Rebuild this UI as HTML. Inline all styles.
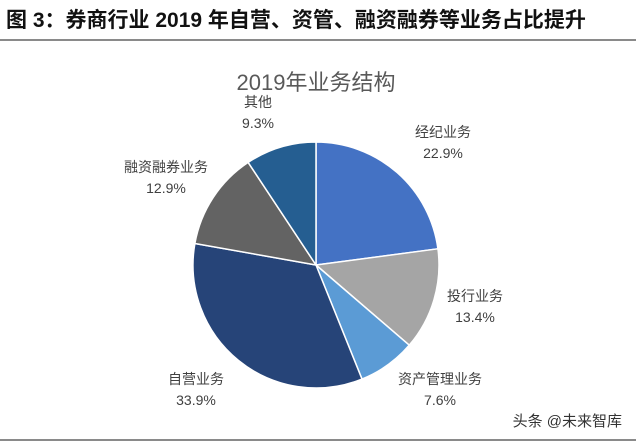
<!DOCTYPE html>
<html><head><meta charset="utf-8"><style>
body{margin:0;width:640px;height:444px;background:#fff;overflow:hidden;font-family:"Liberation Sans","Noto Sans CJK SC",sans-serif;}
</style></head><body>
<svg width="640" height="444" style="position:absolute;left:0;top:0">
<text x="6" y="27" font-size="21" font-weight="bold" fill="#111" font-family="Liberation Sans,Noto Sans CJK SC,sans-serif">图 3：券商行业 2019 年自营、资管、融资融券等业务占比提升</text>
<rect x="0" y="39" width="636" height="2" fill="#8a8a8a"/>
<rect x="0" y="439" width="636" height="2" fill="#8a8a8a"/>
<text x="316" y="90" font-size="22" fill="#595959" text-anchor="middle">2019年业务结构</text>
<g id="pie"></g>
<text x="622" y="426" font-size="15" fill="#333" text-anchor="end">头条 @未来智库</text>
</svg>
<script>
const categories=["经纪业务","投行业务","资产管理业务","自营业务","融资融券业务","其他"];
const values=[22.9,13.4,7.6,33.9,12.9,9.3];
const labels=["22.9%","13.4%","7.6%","33.9%","12.9%","9.3%"];
const colors=["#4472C4","#A5A5A5","#5B9BD5","#264478","#636363","#255E91"];
const labelPos=[[443,137],[475,301],[440,384],[196,384],[166,172],[258,107]];
const cx=316,cy=265,r=123;
const g=document.getElementById('pie');
const ns="http://www.w3.org/2000/svg";
const total=values.reduce((a,b)=>a+b,0);
let a0=0;
values.forEach((v,i)=>{
 const a1=a0+v/total*2*Math.PI;
 const x0=cx+r*Math.sin(a0),y0=cy-r*Math.cos(a0),x1=cx+r*Math.sin(a1),y1=cy-r*Math.cos(a1);
 const p=document.createElementNS(ns,'path');
 p.setAttribute('d',`M${cx},${cy}L${x0},${y0}A${r},${r} 0 ${a1-a0>Math.PI?1:0} 1 ${x1},${y1}Z`);
 p.setAttribute('fill',colors[i]);p.setAttribute('stroke','#fff');p.setAttribute('stroke-width','1.5');
 
 
 g.appendChild(p);
 const [lx,ly]=labelPos[i];
 [categories[i],labels[i]].forEach((s,k)=>{
  const t=document.createElementNS(ns,'text');
  t.setAttribute('x',lx);t.setAttribute('y',ly+k*21);t.setAttribute('font-size','14');
  t.setAttribute('fill','#404040');t.setAttribute('text-anchor','middle');t.textContent=s;
  
  
  g.appendChild(t);
 });
 a0=a1;
});
</script>
</body></html>
